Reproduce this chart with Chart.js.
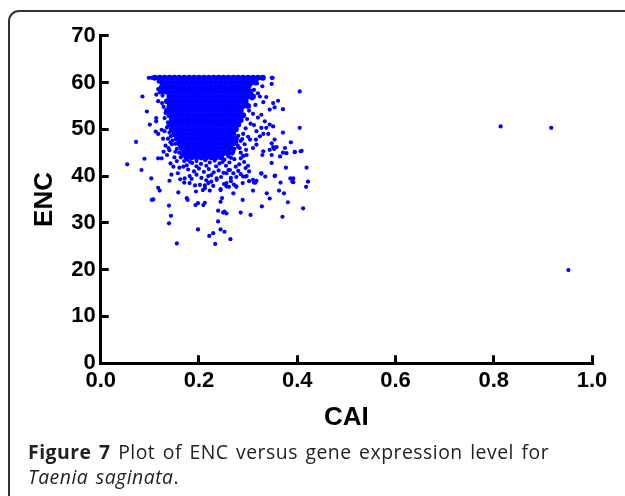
<!DOCTYPE html>
<html>
<head>
<meta charset="utf-8">
<script src="https://cdn.jsdelivr.net/npm/chart.js@4.4.1/dist/chart.umd.min.js"></script>
<style>
  html, body { margin:0; padding:0; width:625px; height:496px; overflow:hidden; background:#fff; }
  #frame { position:absolute; left:8px; top:10px; width:700px; height:600px; border:2px solid #333; border-radius:11px; box-sizing:border-box; }
  #c { position:absolute; left:0; top:0; }
  .cap { position:absolute; left:28px; font-family:'Open Sans','Noto Sans',sans-serif; font-size:17px; line-height:25px; color:#222; white-space:nowrap; letter-spacing:0.5px; word-spacing:2px; }
  #cap1 { top:439px; }
  #cap2 { top:464px; }
</style>
</head>
<body>
<div id="frame"></div>
<canvas id="c" width="625" height="440"></canvas>
<div class="cap" id="cap1"><b>Figure 7</b> Plot of ENC versus gene expression level for</div>
<div class="cap" id="cap2"><i>Taenia saginata</i>.</div>
<script>
// ---- Data (CAI on x, ENC on y) ----
const xTicks = [0, 0.2, 0.4, 0.6, 0.8, 1.0];
const xTickLabels = ['0.0', '0.2', '0.4', '0.6', '0.8', '1.0'];
const yTicks = [0, 10, 20, 30, 40, 50, 60, 70];
const yTickLabels = ['0', '10', '20', '30', '40', '50', '60', '70'];

// Saturated core of the cloud: one ENC level per row, CAI values along it
const coreENC = [61, 60, 59, 58, 57, 56, 55, 54, 53, 52, 51, 50, 49, 48, 47, 46, 45, 44];
const coreCAI = [
  [0.11,0.12,0.13,0.14,0.15,0.16,0.17,0.18,0.19,0.20,0.21,0.22,0.23,0.24,0.25,0.26,0.27,0.28,0.29,0.30,0.31,0.32,0.33],
  [0.125,0.135,0.145,0.155,0.165,0.175,0.185,0.195,0.205,0.215,0.225,0.235,0.245,0.255,0.265,0.275,0.285,0.295,0.305,0.315],
  [0.13,0.14,0.15,0.16,0.17,0.18,0.19,0.20,0.21,0.22,0.23,0.24,0.25,0.26,0.27,0.28,0.29,0.30],
  [0.125,0.135,0.145,0.155,0.165,0.175,0.185,0.195,0.205,0.215,0.225,0.235,0.245,0.255,0.265,0.275,0.285,0.295,0.305],
  [0.14,0.15,0.16,0.17,0.18,0.19,0.20,0.21,0.22,0.23,0.24,0.25,0.26,0.27,0.28,0.29,0.30,0.31],
  [0.135,0.145,0.155,0.165,0.175,0.185,0.195,0.205,0.215,0.225,0.235,0.245,0.255,0.265,0.275,0.285,0.295],
  [0.14,0.15,0.16,0.17,0.18,0.19,0.20,0.21,0.22,0.23,0.24,0.25,0.26,0.27,0.28,0.29,0.30],
  [0.135,0.145,0.155,0.165,0.175,0.185,0.195,0.205,0.215,0.225,0.235,0.245,0.255,0.265,0.275,0.285],
  [0.14,0.15,0.16,0.17,0.18,0.19,0.20,0.21,0.22,0.23,0.24,0.25,0.26,0.27,0.28,0.29],
  [0.145,0.155,0.165,0.175,0.185,0.195,0.205,0.215,0.225,0.235,0.245,0.255,0.265,0.275,0.285],
  [0.14,0.15,0.16,0.17,0.18,0.19,0.20,0.21,0.22,0.23,0.24,0.25,0.26,0.27,0.28],
  [0.145,0.155,0.165,0.175,0.185,0.195,0.205,0.215,0.225,0.235,0.245,0.255,0.265,0.275],
  [0.15,0.16,0.17,0.18,0.19,0.20,0.21,0.22,0.23,0.24,0.25,0.26,0.27],
  [0.155,0.165,0.175,0.185,0.195,0.205,0.215,0.225,0.235,0.245,0.255,0.265,0.275],
  [0.16,0.17,0.18,0.19,0.20,0.21,0.22,0.23,0.24,0.25,0.26,0.27],
  [0.165,0.175,0.185,0.195,0.205,0.215,0.225,0.235,0.245,0.255,0.265],
  [0.17,0.18,0.19,0.20,0.21,0.22,0.23,0.24,0.25,0.26],
  [0.175,0.185,0.195,0.205,0.215,0.225,0.235,0.245]
];

// Scattered genes around the core, [CAI, ENC]
const fringePoints = [
  [0.098,61],[0.104,61],[0.348,61],[0.327,61],[0.35,61],
  [0.085,57.0],[0.094,53.8],[0.100,51.0],[0.113,57.4],[0.117,58.6],[0.117,56.0],[0.125,55.6],
  [0.113,52.4],[0.113,51.7],[0.112,49.5],[0.117,49.0],[0.124,49.9],[0.130,49.6],[0.127,48.0],[0.137,48.0],
  [0.072,47.3],[0.089,43.7],[0.117,43.8],[0.124,43.8],[0.054,42.5],[0.083,41.3],[0.103,39.5],
  [0.117,37.5],[0.120,36.9],[0.104,34.9],[0.107,35.0],[0.140,39.0],[0.142,42.7],[0.144,40.3],
  [0.157,40.6],[0.158,36.5],[0.139,33.7],[0.143,31.5],[0.139,29.9],[0.155,25.6],
  [0.132,46.5],[0.128,45.2],[0.135,44.5],[0.145,46.8],[0.140,45.5],[0.150,44.0],[0.148,42.0],
  [0.155,43.2],[0.160,41.8],[0.165,44.5],
  [0.118,60.2],[0.122,59.0],[0.120,57.9],[0.126,57.2],[0.128,54.8],[0.132,53.5],[0.130,52.4],
  [0.137,51.5],[0.135,50.4],[0.140,49.3],[0.143,48.5],[0.146,47.6],[0.152,46.9],[0.155,45.8],
  [0.160,45.0],[0.163,44.0],[0.170,43.2],
  [0.142,47.2],[0.148,48.8],[0.138,46.0],[0.152,45.2],
  [0.158,47.8],[0.162,46.3],[0.168,45.4],[0.172,44.2],[0.178,45.6],[0.176,46.4],[0.182,43.0],
  [0.257,46.6],[0.266,47.7],[0.272,48.3],[0.258,44.6],[0.262,47.2],[0.250,45.8],[0.248,43.0],
  [0.280,48.6],[0.288,47.9],[0.276,47.2],[0.283,46.0],[0.270,45.2],[0.296,45.6],
  [0.262,45.5],[0.272,45.8],[0.280,46.2],[0.268,44.8],[0.285,45.0],[0.290,44.3],
  [0.180,44.6],[0.190,45.3],[0.200,44.2],[0.210,44.8],[0.220,44.5],[0.230,44.9],[0.240,44.3],
  [0.250,44.7],[0.260,44.2],
  [0.176,43.5],[0.186,42.8],[0.195,43.2],[0.204,42.6],[0.213,43.4],[0.222,42.9],[0.232,43.3],
  [0.242,42.7],[0.252,43.5],[0.262,42.9],[0.272,43.6],[0.282,42.5],[0.292,43.0],[0.300,42.2],
  [0.175,42.3],[0.185,43.9],[0.195,42.1],[0.205,43.8],[0.215,42.2],[0.225,43.9],[0.235,42.1],
  [0.245,43.9],[0.255,42.2],[0.265,43.9],[0.275,42.0],[0.285,43.8],[0.295,41.7],
  [0.168,42.0],[0.178,41.4],[0.190,41.0],[0.200,41.6],[0.210,40.9],[0.220,41.5],[0.230,40.8],
  [0.240,41.2],[0.250,40.7],[0.260,41.3],[0.270,40.6],[0.280,41.1],
  [0.185,39.4],[0.195,40.3],[0.205,39.6],[0.215,39.1],[0.225,40.2],[0.245,39.8],[0.265,39.6],
  [0.285,40.4],[0.192,38.0],[0.225,38.8],[0.265,38.9],
  [0.171,39.5],[0.181,40.0],[0.219,40.0],[0.236,39.5],[0.256,40.6],[0.263,41.3],[0.276,39.8],
  [0.290,39.9],[0.302,41.0],[0.310,39.2],[0.162,39.3],[0.170,38.6],
  [0.181,38.5],[0.194,36.7],[0.202,38.1],[0.212,37.4],[0.219,38.5],[0.229,37.9],[0.236,39.2],
  [0.244,37.0],[0.251,38.3],[0.261,37.7],[0.271,38.2],[0.276,37.7],[0.289,38.5],[0.295,39.9],
  [0.302,38.9],[0.312,38.6],[0.317,39.0],[0.327,40.5],[0.335,39.9],[0.355,40.1],[0.366,38.6],
  [0.386,39.5],[0.390,38.8],[0.418,37.7],[0.422,38.8],[0.419,41.8],
  [0.175,35.3],[0.177,34.9],[0.193,33.8],[0.198,34.2],[0.209,33.8],[0.212,34.3],[0.198,28.6],
  [0.221,27.2],[0.229,27.8],[0.233,25.5],[0.239,30.3],[0.239,32.6],[0.249,32.2],[0.252,32.4],
  [0.256,32.0],[0.244,28.6],[0.252,28.1],[0.264,26.5],[0.247,35.3],[0.244,34.5],[0.270,36.3],
  [0.289,34.9],[0.285,32.2],[0.305,31.7],[0.310,36.9],[0.328,33.5],[0.338,36.3],[0.344,35.2],
  [0.363,36.9],[0.373,36.3],[0.381,34.4],[0.370,31.3],[0.412,33.1],[0.392,39.5],[0.392,38.7],
  [0.377,41.8],[0.354,40.0],[0.348,44.5],[0.348,42.8],[0.371,45.0],[0.395,45.1],[0.407,45.3],
  [0.387,47.2],[0.351,46.2],[0.353,45.8],[0.329,44.5],[0.327,40.6],[0.315,38.6],[0.297,40.0],
  [0.276,37.8],[0.256,38.5],[0.256,37.8],[0.244,37.2],[0.222,36.9],[0.212,38.0],[0.208,37.0],
  [0.348,59.7],[0.329,59.2],[0.405,58.1],[0.320,57.7],[0.324,57.0],[0.337,56.9],[0.331,55.8],
  [0.351,55.6],[0.361,56.1],[0.371,54.3],[0.344,54.2],[0.354,54.7],[0.327,53.1],[0.334,51.7],
  [0.344,51.0],[0.351,50.6],[0.327,50.3],[0.337,50.3],[0.317,49.6],[0.324,48.5],[0.331,49.0],
  [0.341,49.0],[0.348,47.0],[0.354,47.8],[0.371,49.3],[0.405,50.3],[0.395,45.2],[0.409,45.4],
  [0.375,46.0],[0.378,44.9],[0.358,46.2],[0.365,44.2],[0.331,45.3],[0.344,45.6],[0.317,46.7],
  [0.304,47.8],[0.310,46.0],[0.297,44.5],
  [0.305,59.5],[0.312,58.4],[0.318,59.8],[0.308,56.6],[0.315,55.2],[0.302,54.0],[0.310,53.3],
  [0.298,52.2],[0.305,51.2],[0.295,50.2],[0.312,50.9],[0.290,49.0],[0.300,48.4],[0.285,47.5],
  [0.293,46.8],[0.279,46.5],[0.320,52.5],[0.316,47.8]
];

// Three isolated genes with high CAI
const outlierPoints = [[0.814,50.6],[0.917,50.3],[0.952,19.9]];

// ---- Build datasets ----
const corePts = [];
coreENC.forEach((enc, i) => coreCAI[i].forEach(cai => corePts.push({x: cai, y: enc})));
const toXY = arr => arr.map(p => ({x: p[0], y: p[1]}));

const BLUE = '#0000ff';
const tickFont = {family: "'Liberation Sans', Arial, sans-serif", size: 22, weight: 'bold'};
const titleFont = {family: "'Liberation Sans', Arial, sans-serif", size: 26, weight: 'bold'};

new Chart(document.getElementById('c'), {
  type: 'scatter',
  data: {
    datasets: [
      {data: corePts, pointRadius: 3, backgroundColor: BLUE, borderWidth: 0, pointHoverRadius: 3},
      {data: toXY(fringePoints), pointRadius: 2.1, backgroundColor: BLUE, borderWidth: 0},
      {data: toXY(outlierPoints), pointRadius: 2.1, backgroundColor: BLUE, borderWidth: 0}
    ]
  },
  options: {
    responsive: false,
    animation: false,
    events: [],
    layout: {padding: {left: 0, right: 33, top: 35.7, bottom: 7}},
    plugins: {legend: {display: false}, tooltip: {enabled: false}},
    scales: {
      x: {
        type: 'linear', min: 0, max: 1,
        afterBuildTicks: s => { s.ticks = xTicks.map(v => ({value: v})); },
        ticks: {callback: (v, i) => xTickLabels[i], font: tickFont, color: '#000', padding: 13, maxRotation: 0, autoSkip: false},
        grid: {drawOnChartArea: false, drawTicks: true, tickLength: -8, lineWidth: 3, color: '#000'},
        border: {display: true, width: 3, color: '#000'},
        title: {display: true, text: 'CAI', font: titleFont, color: '#000', padding: 0},
        afterFit: s => { s.height = 69.8; }
      },
      y: {
        type: 'linear', min: 0, max: 70,
        afterBuildTicks: s => { s.ticks = yTicks.map(v => ({value: v})); },
        ticks: {callback: (v, i) => yTickLabels[i], font: tickFont, color: '#000', padding: 13, autoSkip: false},
        grid: {drawOnChartArea: false, drawTicks: true, tickLength: -8, lineWidth: 3, color: '#000'},
        border: {display: true, width: 3, color: '#000'},
        title: {display: true, text: 'ENC', font: titleFont, color: '#000', padding: {top: 29, bottom: 0}},
        afterFit: s => { s.width = 100.7; }
      }
    }
  }
});

// size caption lines so they span the same width as in the reference
function fitWidth(el, target) {
  for (let k = 0; k < 3; k++) {
    const size = parseFloat(getComputedStyle(el).fontSize);
    const w = el.getBoundingClientRect().width;
    el.style.fontSize = (size * target / w) + 'px';
  }
}
const cap1 = document.getElementById('cap1');
const cap2 = document.getElementById('cap2');
fitWidth(cap1, 521);
cap2.style.fontSize = cap1.style.fontSize;
</script>
</body>
</html>
